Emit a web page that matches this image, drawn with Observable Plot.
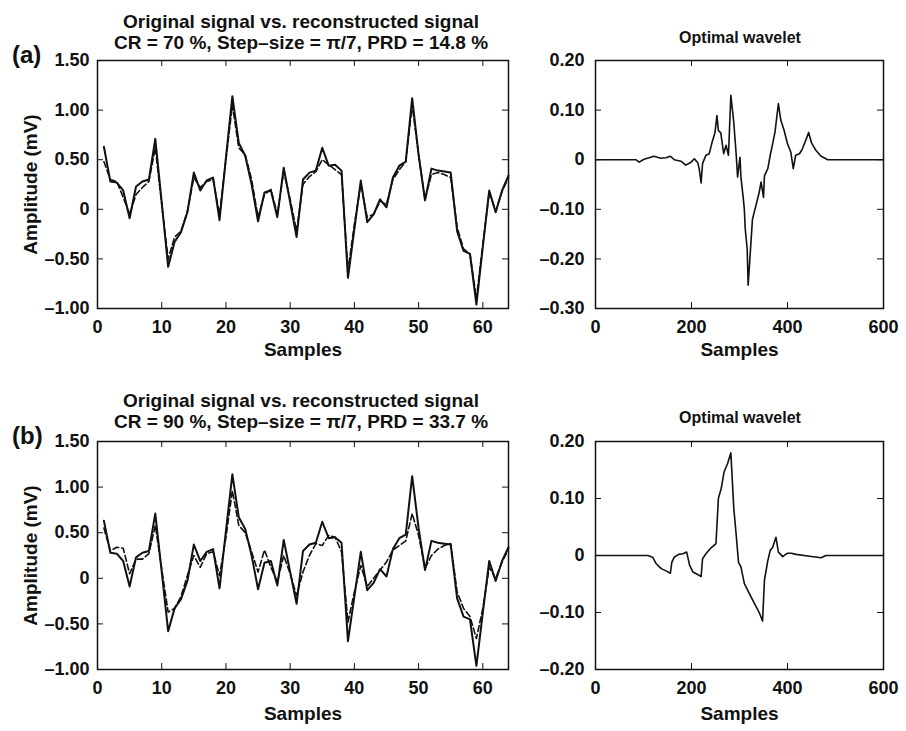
<!DOCTYPE html>
<html><head><meta charset="utf-8">
<script src="https://cdn.jsdelivr.net/npm/d3@7"></script>
<script src="https://cdn.jsdelivr.net/npm/@observablehq/plot@0.6"></script>
<style>
body{margin:0;background:#fff;}
#fig{position:relative;width:906px;height:731px;overflow:hidden;font-family:"Liberation Sans",Arial,Helvetica,sans-serif;font-weight:bold;color:#111;}
#fig svg{position:absolute;}
.t{position:absolute;white-space:nowrap;line-height:1;}
</style></head><body><div id="fig"></div>
<script>
// ---- data ----
const samples = d3.range(1, 65);
const original = [0.63,0.28,0.27,0.19,-0.09,0.23,0.28,0.30,0.71,0.07,-0.58,-0.33,-0.23,-0.03,0.37,0.19,0.29,0.32,-0.11,0.52,1.14,0.67,0.54,0.25,-0.12,0.17,0.19,-0.08,0.42,0.07,-0.28,0.30,0.37,0.39,0.62,0.44,0.45,0.39,-0.69,-0.20,0.29,-0.13,-0.05,0.10,0.02,0.32,0.44,0.48,1.12,0.55,0.09,0.41,0.39,0.38,0.37,-0.22,-0.42,-0.45,-0.96,-0.38,0.19,-0.03,0.19,0.34];
const reconstructedA = [0.48,0.30,0.28,0.12,-0.05,0.15,0.22,0.28,0.62,0.05,-0.50,-0.28,-0.22,-0.02,0.32,0.22,0.28,0.30,-0.05,0.50,1.05,0.62,0.55,0.30,-0.08,0.15,0.20,-0.05,0.38,0.10,-0.22,0.25,0.33,0.38,0.50,0.45,0.40,0.35,-0.62,-0.15,0.25,-0.08,-0.05,0.08,0.05,0.30,0.40,0.48,1.05,0.55,0.10,0.35,0.37,0.35,0.32,-0.18,-0.40,-0.45,-0.90,-0.35,0.17,-0.02,0.18,0.32];
const reconstructedB = [0.55,0.30,0.34,0.33,0.05,0.21,0.21,0.27,0.58,0.10,-0.37,-0.33,-0.20,0.03,0.25,0.12,0.27,0.29,0.03,0.45,0.96,0.58,0.50,0.29,0.07,0.31,0.12,-0.04,0.25,0.05,-0.19,0.07,0.25,0.38,0.36,0.47,0.45,0.29,-0.48,-0.15,0.14,-0.09,0.00,0.09,0.18,0.31,0.36,0.41,0.71,0.47,0.11,0.25,0.32,0.36,0.38,-0.15,-0.33,-0.42,-0.66,-0.33,0.12,0.00,0.18,0.32];

const waveletAx = [0,84,91,101,112,122,136,147,156,164,178,188,199,206,213,216,220,223,230,237,242,249,253,256,261,267,272,277,282,288,293,296,301,303,308,310,312,316,318,322,327,334,341,345,350,352,359,364,369,374,381,386,393,400,407,412,417,425,431,438,444,450,459,470,484,600];
const waveletAy = [0,0,-0.005,0.001,0.004,0.007,0.003,0.004,0.007,0,-0.003,-0.011,-0.005,0.002,-0.006,-0.018,-0.047,-0.008,0.009,0.012,0.032,0.055,0.089,0.059,0.054,0.012,0.029,0.009,0.13,0.076,0.012,-0.035,0.005,-0.035,-0.079,-0.099,-0.14,-0.18,-0.253,-0.194,-0.12,-0.093,-0.066,-0.045,-0.076,-0.032,-0.018,0.009,0.032,0.056,0.113,0.08,0.059,0.032,0.015,-0.018,0.009,0.012,0.022,0.039,0.055,0.034,0.019,0.007,0,0];

const waveletBx = [0,109,119,126,137,147,156,159,164,173,182,190,196,203,212,220,223,230,239,251,256,262,268,275,282,288,293,298,303,310,320,331,341,348,352,359,364,369,376,381,390,400,408,418,442,470,480,600];
const waveletBy = [0,0,-0.003,-0.014,-0.023,-0.027,-0.031,-0.012,-0.003,0.002,0.003,0.006,-0.017,-0.029,-0.033,-0.037,-0.006,0.003,0.012,0.021,0.10,0.118,0.147,0.161,0.18,0.084,0.037,-0.012,-0.02,-0.049,-0.066,-0.084,-0.10,-0.115,-0.043,-0.009,0.009,0.014,0.032,0.006,-0.002,0.004,0.004,0.002,-0.001,-0.004,0,0];

const sigXTicks = [0,10,20,30,40,50,60];
const sigYTicks = [-1,-0.5,0,0.5,1,1.5];
const wavXTicks = [0,200,400,600];
const wavAYTicks = [-0.3,-0.2,-0.1,0,0.1,0.2];
const wavBYTicks = [-0.2,-0.1,0,0.1,0.2];

const titleSig = "Original signal vs. reconstructed signal";
const subA = "CR = 70 %, Step\u2013size = \u03c0/7, PRD = 14.8 %";
const subB = "CR = 90 %, Step\u2013size = \u03c0/7, PRD = 33.7 %";
const titleWav = "Optimal wavelet";
const xLabel = "Samples";
const yLabel = "Amplitude (mV)";

// ---- rendering ----
const FONT = '"Liberation Sans", Arial, Helvetica, sans-serif';
const INK = "#111";
const fmtY = d => d === 0 ? "0" : (d < 0 ? "\u2013" : "") + Math.abs(d).toFixed(2);
const fmtX = d => String(d);
const fig = document.getElementById("fig");

function panel(o) {
  const fw = o.width - o.ml - o.mr, fh = o.height - o.mt - o.mb;
  const svg = Plot.plot({
    width: o.width, height: o.height,
    marginTop: o.mt, marginBottom: o.mb, marginLeft: o.ml, marginRight: o.mr,
    x: {domain: o.xDomain}, y: {domain: o.yDomain},
    style: {fontFamily: FONT, fontWeight: "bold", fontSize: "18px", color: INK, background: "transparent", overflow: "visible"},
    marks: [
      ...o.marks,
      Plot.ruleX(o.xTicks, {x: d => d, insetTop: fh - 6, stroke: INK, strokeWidth: 1}),
      Plot.ruleX(o.xTicks, {x: d => d, insetBottom: fh - 6, stroke: INK, strokeWidth: 1}),
      Plot.ruleY(o.yTicks, {y: d => d, insetRight: fw - 6, stroke: INK, strokeWidth: 1}),
      Plot.ruleY(o.yTicks, {y: d => d, insetLeft: fw - 6, stroke: INK, strokeWidth: 1}),
      Plot.frame({stroke: INK, strokeWidth: 1.5}),
      Plot.axisX(o.xTicks, {tickSize: 0, tickPadding: o.xPad, tickFormat: fmtX, label: null, fontSize: 18, fill: INK}),
      Plot.axisY(o.yTicks, {tickSize: 0, tickPadding: o.yPad, tickFormat: fmtY, label: null, fontSize: 18, fill: INK}),
      Plot.text([xLabel], {text: d => d, frameAnchor: "bottom", dy: o.xLabelDy, lineAnchor: "top", textAnchor: "middle", fontSize: 19, fill: INK}),
      o.yLabel ? Plot.text([o.yLabel], {text: d => d, frameAnchor: "left", dx: -67, rotate: -90, textAnchor: "middle", lineAnchor: "middle", fontSize: 19, fill: INK}) : null
    ]
  });
  svg.style.left = o.left + "px";
  svg.style.top = o.top + "px";
  fig.appendChild(svg);
}

function sigMarks(rec) {
  return [
    Plot.line(samples, {x: d => d, y: (d, i) => rec[i], stroke: INK, strokeWidth: 1.6, strokeDasharray: "6,3"}),
    Plot.line(samples, {x: d => d, y: (d, i) => original[i], stroke: INK, strokeWidth: 2})
  ];
}
function wavMarks(xs, ys) {
  return [Plot.line(xs, {x: d => d, y: (d, i) => ys[i], stroke: INK, strokeWidth: 1.6})];
}

// top row
panel({left: 0, top: 0, width: 520, height: 370, mt: 60, mb: 62, ml: 97, mr: 12,
  xDomain: [0, 64], yDomain: [-1, 1.5], xTicks: sigXTicks, yTicks: sigYTicks,
  marks: sigMarks(reconstructedA), xPad: 12, yPad: 8, xLabelDy: 34, yLabel});
panel({left: 520, top: 0, width: 386, height: 370, mt: 60, mb: 62, ml: 75, mr: 23,
  xDomain: [0, 600], yDomain: [-0.3, 0.2], xTicks: wavXTicks, yTicks: wavAYTicks,
  marks: wavMarks(waveletAx, waveletAy), xPad: 12, yPad: 11, xLabelDy: 34});
// bottom row
panel({left: 0, top: 370, width: 520, height: 361, mt: 71, mb: 62, ml: 97, mr: 12,
  xDomain: [0, 64], yDomain: [-1, 1.5], xTicks: sigXTicks, yTicks: sigYTicks,
  marks: sigMarks(reconstructedB), xPad: 12, yPad: 8, xLabelDy: 37, yLabel});
panel({left: 520, top: 370, width: 386, height: 361, mt: 71, mb: 62, ml: 75, mr: 23,
  xDomain: [0, 600], yDomain: [-0.2, 0.2], xTicks: wavXTicks, yTicks: wavBYTicks,
  marks: wavMarks(waveletBx, waveletBy), xPad: 12, yPad: 11, xLabelDy: 37});

// titles (baseline-positioned html text)
function label(text, x, baseline, size, align) {
  const d = document.createElement("div");
  d.className = "t";
  d.textContent = text;
  d.style.fontSize = size + "px";
  d.style.top = (baseline - 0.8465 * size) + "px";
  d.style.left = x + "px";
  if (align === "center") d.style.transform = "translateX(-50%)";
  fig.appendChild(d);
}
label(titleSig, 301, 28, 19, "center");
label(subA, 301, 49, 19, "center");
label(titleWav, 740, 44, 16, "center");
label("(a)", 12, 63, 24);
label(titleSig, 301, 407, 19, "center");
label(subB, 301, 428, 19, "center");
label(titleWav, 740, 424, 16, "center");
label("(b)", 12, 444, 24);
</script></body></html>
